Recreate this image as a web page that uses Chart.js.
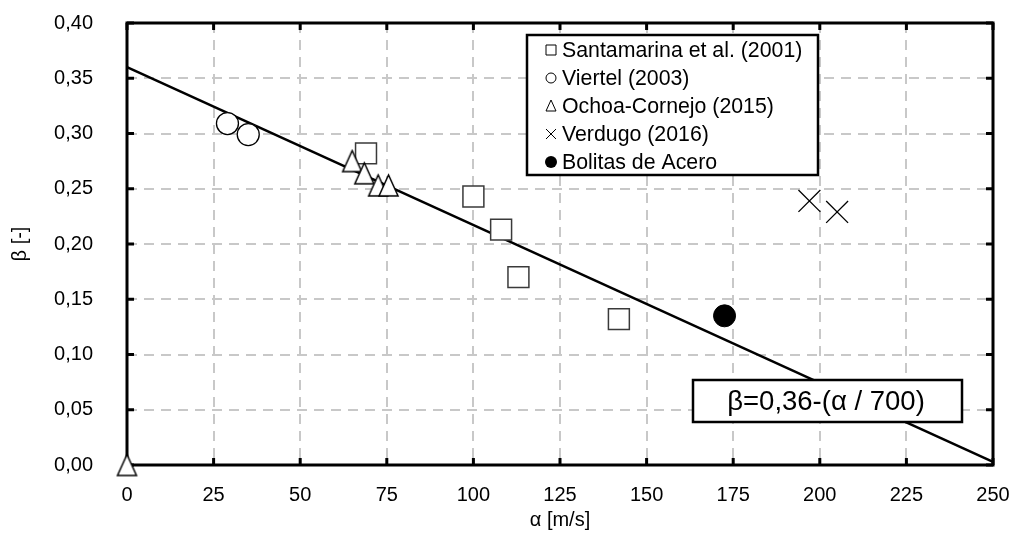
<!DOCTYPE html>
<html>
<head>
<meta charset="utf-8">
<script src="https://cdn.jsdelivr.net/npm/chart.js@4.4.0/dist/chart.umd.min.js"></script>
<style>
  html, body { margin: 0; padding: 0; background: #fff; }
</style>
</head>
<body>
<canvas id="chart" width="1018" height="535"></canvas>
<script>
const FONT = "'Liberation Sans', Arial, sans-serif";
const GRID_COLOR = "#c8c8c8";
const TICK_LEN = 7;

// Measured points, alpha in m/s and beta dimensionless
const santamarinaAlpha = [69, 100, 108, 113, 142];
const santamarinaBeta = [0.282, 0.243, 0.213, 0.17, 0.132];
const viertelAlpha = [29, 35];
const viertelBeta = [0.309, 0.299];
const ochoaAlpha = [0, 65, 68.5, 72.5, 75.5];
const ochoaBeta = [0, 0.275, 0.264, 0.253, 0.253];
const verdugoAlpha = [197, 205];
const verdugoBeta = [0.239, 0.229];
const aceroAlpha = [172.5];
const aceroBeta = [0.135];

// Fitted line beta = 0.36 - alpha / 700, end points
const fitAlpha = [0, 250];
const fitBeta = [0.36, 0.0029];

const xTicks = [0, 25, 50, 75, 100, 125, 150, 175, 200, 225, 250];
const yTicks = [0, 0.05, 0.1, 0.15, 0.2, 0.25, 0.3, 0.35, 0.4];

const legendLabels = [
  "Santamarina et al. (2001)",
  "Viertel (2003)",
  "Ochoa-Cornejo (2015)",
  "Verdugo (2016)",
  "Bolitas de Acero",
];

function toPoints(xs, ys) {
  return xs.map((x, i) => ({ x: x, y: ys[i] }));
}

// Tall open triangle used as a point style
function makeTriangle(w, h, lw) {
  const c = document.createElement("canvas");
  c.width = w + 4;
  c.height = h + 4;
  const g = c.getContext("2d");
  g.beginPath();
  g.moveTo(c.width / 2, 2);
  g.lineTo(c.width - 2, h + 2);
  g.lineTo(2, h + 2);
  g.closePath();
  g.fillStyle = "#fff";
  g.fill();
  g.lineWidth = lw;
  g.strokeStyle = "#000";
  g.stroke();
  return c;
}

function drawMarker(ctx, kind, x, y) {
  ctx.save();
  ctx.lineWidth = 1;
  ctx.strokeStyle = "#000";
  ctx.fillStyle = "#fff";
  ctx.beginPath();
  if (kind === "square") {
    ctx.rect(x - 5, y - 5, 10, 10);
    ctx.fill();
    ctx.stroke();
  } else if (kind === "circle") {
    ctx.arc(x, y, 5, 0, Math.PI * 2);
    ctx.fill();
    ctx.stroke();
  } else if (kind === "triangle") {
    ctx.moveTo(x, y - 6);
    ctx.lineTo(x + 5, y + 5);
    ctx.lineTo(x - 5, y + 5);
    ctx.closePath();
    ctx.fill();
    ctx.stroke();
  } else if (kind === "cross") {
    ctx.moveTo(x - 5, y - 5);
    ctx.lineTo(x + 5, y + 5);
    ctx.moveTo(x + 5, y - 5);
    ctx.lineTo(x - 5, y + 5);
    ctx.stroke();
  } else {
    ctx.fillStyle = "#000";
    ctx.arc(x, y, 6, 0, Math.PI * 2);
    ctx.fill();
  }
  ctx.restore();
}

// Heavy frame with inward ticks, drawn under the markers
const framePlugin = {
  id: "frame",
  beforeDatasetsDraw(chart) {
    const { ctx, chartArea: a, scales } = chart;
    ctx.save();
    ctx.strokeStyle = "#000";
    ctx.lineWidth = 3;
    ctx.beginPath();
    xTicks.forEach((v) => {
      const px = scales.x.getPixelForValue(v);
      ctx.moveTo(px, a.bottom);
      ctx.lineTo(px, a.bottom - TICK_LEN);
      ctx.moveTo(px, a.top);
      ctx.lineTo(px, a.top + TICK_LEN);
    });
    yTicks.forEach((v) => {
      const py = scales.y.getPixelForValue(v);
      ctx.moveTo(a.left, py);
      ctx.lineTo(a.left + TICK_LEN, py);
      ctx.moveTo(a.right, py);
      ctx.lineTo(a.right - TICK_LEN, py);
    });
    ctx.stroke();
    ctx.strokeRect(a.left, a.top, a.right - a.left, a.bottom - a.top);
    ctx.restore();
  },
};

// Legend box and the equation label inside the plot
const boxesPlugin = {
  id: "boxes",
  afterDatasetsDraw(chart) {
    const { ctx } = chart;
    ctx.save();
    ctx.fillStyle = "#fff";
    ctx.strokeStyle = "#000";
    ctx.lineWidth = 2.5;
    ctx.fillRect(527, 35, 291, 140);
    ctx.strokeRect(527, 35, 291, 140);

    const kinds = ["square", "circle", "triangle", "cross", "dot"];
    ctx.font = "21.3px " + FONT;
    ctx.textBaseline = "middle";
    ctx.textAlign = "left";
    legendLabels.forEach((label, i) => {
      const y = 50 + i * 28;
      drawMarker(ctx, kinds[i], 551, y);
      ctx.fillStyle = "#000";
      ctx.fillText(label, 562, y + 1);
    });

    ctx.fillStyle = "#fff";
    ctx.lineWidth = 2.5;
    ctx.fillRect(693, 380, 269, 42);
    ctx.strokeRect(693, 380, 269, 42);
    ctx.fillStyle = "#000";
    ctx.font = "27.5px " + FONT;
    ctx.textAlign = "center";
    ctx.fillText("\u03b2=0,36-(\u03b1 / 700)", 826, 402);
    ctx.restore();
  },
};

const ctx = document.getElementById("chart").getContext("2d");
new Chart(ctx, {
  type: "scatter",
  data: {
    datasets: [
      {
        label: legendLabels[4],
        data: toPoints(aceroAlpha, aceroBeta),
        pointStyle: "circle",
        pointRadius: 11,
        backgroundColor: "#000",
        borderColor: "#000",
        borderWidth: 1,
        clip: false,
      },
      {
        label: legendLabels[3],
        data: toPoints(verdugoAlpha, verdugoBeta),
        pointStyle: "crossRot",
        pointRadius: 15.5,
        borderColor: "#000",
        borderWidth: 1.3,
        clip: false,
      },
      {
        label: legendLabels[2],
        data: toPoints(ochoaAlpha, ochoaBeta),
        pointStyle: makeTriangle(19, 21, 1.5),
        pointRadius: 11,
        clip: false,
      },
      {
        label: legendLabels[1],
        data: toPoints(viertelAlpha, viertelBeta),
        pointStyle: "circle",
        pointRadius: 11,
        backgroundColor: "#fff",
        borderColor: "#000",
        borderWidth: 1.3,
        clip: false,
      },
      {
        label: legendLabels[0],
        data: toPoints(santamarinaAlpha, santamarinaBeta),
        pointStyle: "rect",
        pointRadius: 14.8,
        backgroundColor: "#fff",
        borderColor: "#3a3a3a",
        borderWidth: 1.5,
        clip: false,
      },
      {
        label: "Ajuste",
        type: "line",
        data: toPoints(fitAlpha, fitBeta),
        borderColor: "#000",
        borderWidth: 2.5,
        pointRadius: 0,
        fill: false,
        clip: false,
      },
    ],
  },
  options: {
    responsive: false,
    animation: false,
    events: [],
    layout: {
      padding: { top: 23, right: 25, left: 0, bottom: 0 },
    },
    scales: {
      x: {
        type: "linear",
        min: 0,
        max: 250,
        afterBuildTicks: (scale) => {
          scale.ticks = xTicks.map((v) => ({ value: v }));
        },
        afterFit: (scale) => {
          scale.height = 70;
          // keep the end labels from pushing the plot area inwards
          scale.paddingLeft = 0;
          scale.paddingRight = 0;
        },
        grid: { color: GRID_COLOR, lineWidth: 2, drawTicks: false },
        border: { display: false, dash: [10, 7] },
        ticks: {
          color: "#000",
          font: { family: FONT, size: 20 },
          padding: 18,
          maxRotation: 0,
          callback: (v) => String(v),
        },
        title: {
          display: true,
          text: "\u03b1 [m/s]",
          color: "#000",
          font: { family: FONT, size: 20 },
          padding: { top: 0, bottom: 3 },
        },
      },
      y: {
        type: "linear",
        min: 0,
        max: 0.4,
        afterBuildTicks: (scale) => {
          scale.ticks = yTicks.map((v) => ({ value: v }));
        },
        afterFit: (scale) => {
          scale.width = 127;
          scale.paddingTop = 0;
          scale.paddingBottom = 0;
        },
        grid: { color: GRID_COLOR, lineWidth: 2, drawTicks: false },
        border: { display: false, dash: [10, 7] },
        ticks: {
          color: "#000",
          font: { family: FONT, size: 20 },
          padding: 34,
          callback: (v) => v.toFixed(2).replace(".", ","),
        },
        title: {
          display: true,
          text: "\u03b2 [-]",
          color: "#000",
          font: { family: FONT, size: 20 },
          padding: { top: 8, bottom: 0 },
        },
      },
    },
    plugins: {
      legend: { display: false },
      tooltip: { enabled: false },
    },
  },
  plugins: [framePlugin, boxesPlugin],
});
</script>
</body>
</html>
